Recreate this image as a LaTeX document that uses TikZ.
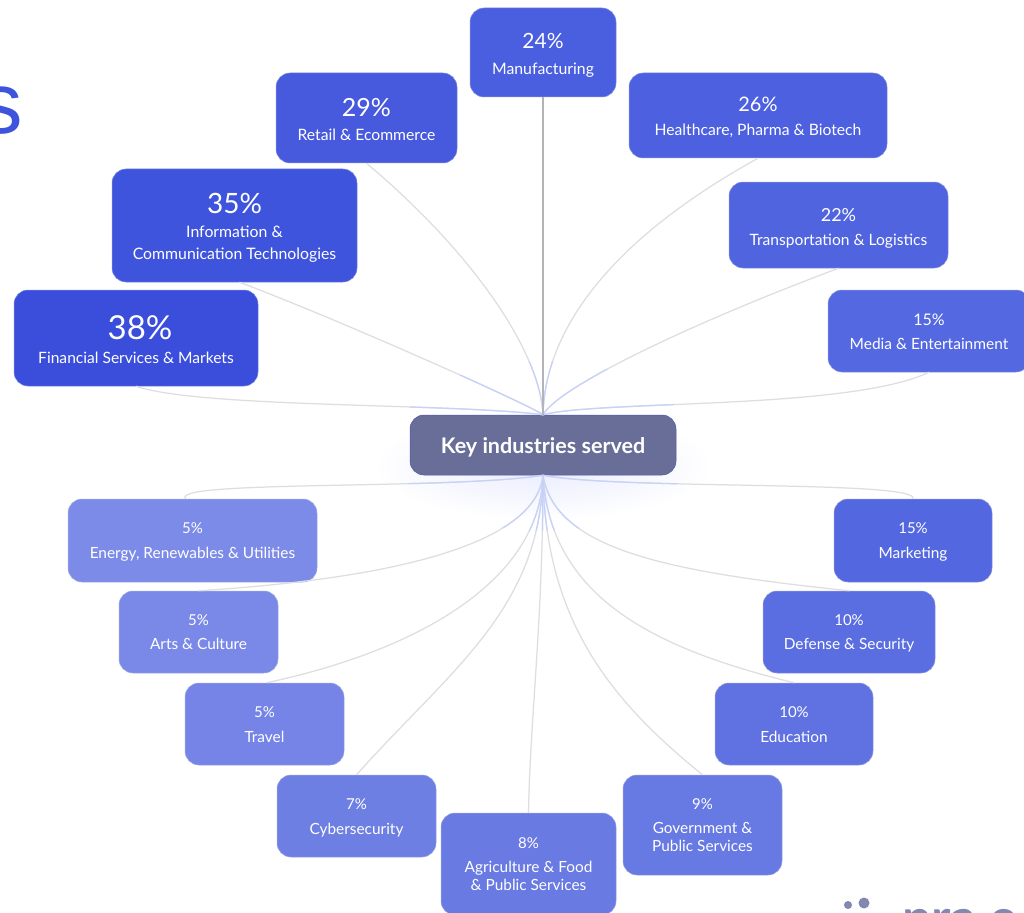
\documentclass[tikz,border=0pt]{standalone}
\usepackage{fontspec}
\setmainfont{Lato}
\newfontfamily\titlefont{Liberation Sans}
\usetikzlibrary{calc}
\definecolor{cMfg}{HTML}{4A5EE0}
\definecolor{cRet}{HTML}{4759DD}
\definecolor{cHea}{HTML}{4C60E0}
\definecolor{cInf}{HTML}{3F54DD}
\definecolor{cTra}{HTML}{5064E0}
\definecolor{cFin}{HTML}{3A4EDB}
\definecolor{cMed}{HTML}{5468E1}
\definecolor{cHub}{HTML}{686E97}
\definecolor{cEne}{HTML}{7C8BE8}
\definecolor{cMkt}{HTML}{5367E0}
\definecolor{cArt}{HTML}{7A89E7}
\definecolor{cDef}{HTML}{5B6EE1}
\definecolor{cTrv}{HTML}{7584E6}
\definecolor{cEdu}{HTML}{6072E2}
\definecolor{cCyb}{HTML}{6E7FE4}
\definecolor{cGov}{HTML}{6779E3}
\definecolor{cAgr}{HTML}{697AE3}
\definecolor{cLine}{HTML}{DEDEE2}
\definecolor{cGlow}{HTML}{E8EBFD}
\definecolor{cBlue}{HTML}{C6D2F7}
\definecolor{cLogo}{HTML}{8388B0}
\definecolor{cStem}{HTML}{B4B4B8}
% first-line strut pushes the text block down by #3 px
\newcommand{\pc}[3]{\rule{0pt}{\dimexpr #1pt*74/100+#3pt*2\relax}{\fontsize{#1}{24}\selectfont #2\%}}
\tikzset{
  card/.style n args={3}{rounded corners=14, draw=#1!85!gray!70, line width=0.5, fill=#1, inner sep=0, text=white, align=center,
    minimum width=#2, minimum height=#3},
  lab/.style 2 args={font=\fontsize{#1}{#2}\selectfont},
  link/.style={line width=1.25, cLine},
}
\newcommand{\topLinks}{
  \draw[link] (hub.north) .. controls (450,403) and (200,408) .. (fin.south);
  \draw[link] (hub.north) .. controls (530,405) and (340,320) .. ([xshift=5]inf.south);
  \draw[link] (hub.north) .. controls (540,350) and (470,250) .. (ret.south);
  \draw[link] (hub.north) .. controls (545,330) and (610,240) .. (hea.south);
  \draw[link] (hub.north) .. controls (560,385) and (700,320) .. (tra.south);
  \draw[link] (hub.north) .. controls (600,400) and (850,410) .. (med.south);
}
\newcommand{\botLinks}{
  \draw[link] (hub.south) .. controls (450,490) and (170,480) .. ([xshift=-7]ene.north);
  \draw[link] (hub.south) .. controls (620,490) and (920,480) .. (mkt.north);
  \draw[link] (hub.south) .. controls (535,550) and (370,580) .. (art.north);
  \draw[link] (hub.south) .. controls (540,580) and (420,650) .. ([xshift=2]trv.north);
  \draw[link] (hub.south) .. controls (540,610) and (450,670) .. (cyb.north);
  \draw[link] (hub.south) .. controls (543,620) and (530,720) .. (agr.north);
  \draw[link] (hub.south) .. controls (545,620) and (610,700) .. (gov.north);
  \draw[link] (hub.south) .. controls (550,600) and (660,650) .. (edu.north);
  \draw[link] (hub.south) .. controls (555,550) and (670,572) .. (def.north);
}
\begin{document}
\begin{tikzpicture}[x=1pt,y=-1pt]
\useasboundingbox (0,0) rectangle (1024,912);
\clip (0,0) rectangle (1024,912);
\fill[white] (0,0) rectangle (1024,912);
\shade[inner color=cGlow, outer color=white] (543,465) ellipse [x radius=170, y radius=55];

\node[card={cMfg}{146}{89}, lab={15.8}{26}] (mfg) at (543,52.5) {\pc{21}{24}{3}\\Manufacturing};
\node[card={cRet}{181}{90}, lab={15.7}{24}] (ret) at (366.5,118) {\pc{25}{29}{1.5}\\Retail \& Ecommerce};
\node[card={cHea}{258}{85}, lab={15.7}{24}] (hea) at (758,115.5) {\pc{20}{26}{2}\\Healthcare, Pharma \& Biotech};
\node[card={cInf}{245}{113}, lab={15.8}{24}] (inf) at (234.5,225.5) {\pc{28}{35}{2}\\Information \&\\[-2pt]Communication Technologies};
\node[card={cTra}{219}{86}, lab={15.6}{24}] (tra) at (838.5,225) {\pc{18}{22}{3}\\Transportation \& Logistics};
\node[card={cFin}{244}{96}, lab={15.6}{24}] (fin) at (136,338) {\hspace*{8pt}\pc{33}{38}{1}\\Financial Services \& Markets};
\node[card={cMed}{202}{82}, lab={15.5}{24}] (med) at (929,331) {\pc{16}{15}{1}\\Media \& Entertainment};

\node[card={cEne}{249}{83}, lab={15.4}{25}] (ene) at (192.5,540.5) {\pc{15}{5}{1}\\Energy, Renewables \& Utilities};
\node[card={cMkt}{158}{83}, lab={15.4}{25}] (mkt) at (913,540.5) {\pc{15}{15}{1}\\Marketing};
\node[card={cArt}{159}{82}, lab={15.4}{24}] (art) at (198.5,632) {\pc{15}{5}{0}\\Arts \& Culture};
\node[card={cDef}{172}{82}, lab={15.4}{24}] (def) at (849,632) {\pc{15}{10}{1}\\Defense \& Security};
\node[card={cTrv}{159}{82}, lab={15.4}{25}] (trv) at (264.5,724) {\pc{15}{5}{1}\\Travel};
\node[card={cEdu}{158}{82}, lab={15.4}{25}] (edu) at (794,724) {\pc{15}{10}{1}\\Education};
\node[card={cCyb}{159}{82}, lab={15.4}{25}] (cyb) at (356.5,816) {\pc{15}{7}{2}\\Cybersecurity};
\node[card={cGov}{159}{100}, lab={15.4}{24}] (gov) at (702.5,825) {\pc{15}{9}{0}\\Government \&\\[-6pt]Public Services};
\node[card={cAgr}{175}{102}, lab={15.4}{24}] (agr) at (528.5,864) {\pc{15}{8}{0}\\Agriculture \& Food\\[-6pt]\& Public Services};

\node[rounded corners=14, fill=cHub, draw=cHub!80!blue, line width=0.5, minimum width=266, minimum height=60, inner sep=0, text=white, align=center, lab={21.5}{24}] (hub) at (543,445) {\rule{0pt}{20pt}\bfseries Key industries served};

\topLinks
\botLinks
\begin{scope}
  \clip (543,446) ellipse [x radius=150, y radius=85];
  \tikzset{link/.style={line width=1.25, cBlue}}
  \topLinks
  \botLinks
\end{scope}
\draw[line width=1.25, cStem] (hub.north) -- (mfg.south);

\node[anchor=base east, inner sep=0, text=cInf, font=\fontsize{87}{87}\selectfont\titlefont] (title) at (23,134) {s};
\node[circle, fill=cLogo, minimum size=8, inner sep=0] (dotA) at (848,905) {};
\node[circle, fill=cLogo, minimum size=11, inner sep=0] (dotB) at (864,903) {};
\node[anchor=base west, inner sep=0, text=cLogo, font=\fontsize{52}{52}\selectfont\bfseries] (logo) at (902,936) {pra c};
\end{tikzpicture}
\end{document}
